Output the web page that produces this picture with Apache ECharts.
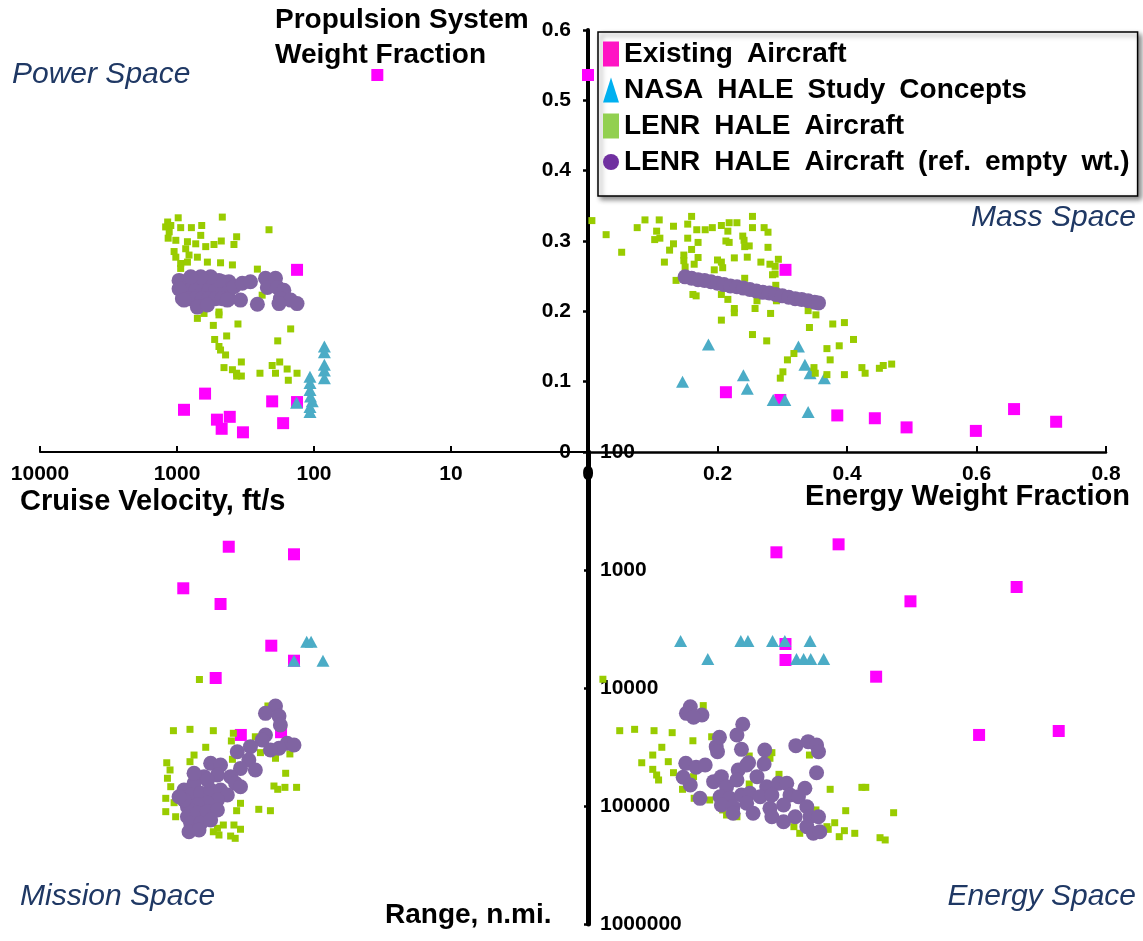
<!DOCTYPE html>
<html><head><meta charset="utf-8">
<script src="https://cdn.jsdelivr.net/npm/echarts@6/dist/echarts.min.js"></script>
<style>html,body{margin:0;padding:0;background:#fff}#c{width:1143px;height:941px}</style>
</head><body><div id="c"></div><script>
// ---------- data ----------
const seriesNames = ['Existing Aircraft','NASA HALE Study Concepts','LENR HALE Aircraft','LENR HALE Aircraft (ref. empty wt.)'];
const velocityTicks = [1,10,100,1000,10000];
const fractionTicks = [0,0.1,0.2,0.3,0.4,0.5,0.6];
const energyTicks = [0,0.2,0.4,0.6,0.8];
const rangeTicks = [100,1000,10000,100000,1000000];

// Power space: [cruise velocity ft/s, propulsion weight fraction]
const existingPower = [[34.5,0.536],[133,0.259],[624,0.083],[889,0.060],[202,0.072],[133,0.071],[511,0.046],[412,0.050],[472,0.033],[330,0.028],[168,0.041]];
const nasaPower = [[84,0.150],[84,0.142],[84,0.124],[84,0.116],[84,0.105],[107,0.107],[107,0.098],[107,0.088],[106,0.079],[103,0.072],[107,0.064],[107,0.057],[134,0.070]];
const lenrPower = [[980,0.333],[467,0.334],[213,0.316],[1170,0.327],[1210,0.320],[1110,0.322],[1140,0.313],[940,0.319],[785,0.319],[660,0.322],[671,0.308],[367,0.306],[1160,0.304],[1020,0.301],[839,0.299],[730,0.296],[617,0.292],[537,0.295],[475,0.300],[384,0.295],[1050,0.285],[1020,0.277],[864,0.289],[817,0.280],[710,0.277],[600,0.270],[481,0.269],[394,0.266],[940,0.268],[839,0.270],[940,0.261],[259,0.260],[239,0.223],[710,0.190],[635,0.197],[494,0.199],[494,0.195],[543,0.180],[359,0.182],[434,0.165],[531,0.160],[148,0.175],[184,0.158],[494,0.150],[481,0.145],[442,0.138],[454,0.120],[394,0.117],[367,0.112],[339,0.128],[367,0.108],[339,0.108],[248,0.112],[202,0.123],[178,0.128],[191,0.112],[157,0.118],[133,0.112],[154,0.102]];
const refPower = [[913,0.242],[817,0.242],[730,0.242],[653,0.242],[584,0.242],[522,0.242],[467,0.242],[418,0.242],
  [913,0.230],[817,0.230],[730,0.230],[653,0.230],[584,0.230],[522,0.230],[467,0.230],[418,0.230],
  [913,0.218],[817,0.218],[730,0.218],[653,0.218],[584,0.218],[522,0.218],[467,0.218],[418,0.218],
  [384,0.235],[334,0.240],[291,0.242],[226,0.247],[191,0.247],[219,0.234],[185,0.234],[166,0.230],[176,0.218],[148,0.216],[133,0.211],[180,0.211],[259,0.210],[344,0.216],[429,0.216],[966,0.244],[966,0.232],[889,0.216],[710,0.206],[600,0.209],[494,0.244],[568,0.249],[671,0.249],[794,0.249]];

// Mass space: [energy weight fraction, propulsion weight fraction]
const existingMass = [[0,0.536],[0.305,0.259],[0.213,0.085],[0.297,0.074],[0.385,0.052],[0.443,0.048],[0.492,0.035],[0.599,0.030],[0.658,0.061],[0.723,0.043]];
const nasaMass = [[0.186,0.153],[0.146,0.100],[0.240,0.109],[0.246,0.090],[0.286,0.074],[0.304,0.074],[0.325,0.150],[0.335,0.124],[0.343,0.112],[0.365,0.105],[0.340,0.057]];
const lenrMass = [[0.006,0.329],[0.028,0.309],[0.052,0.284],[0.076,0.319],[0.088,0.330],[0.110,0.330],[0.106,0.314],[0.132,0.321],[0.154,0.324],[0.160,0.335],[0.168,0.316],[0.181,0.316],[0.192,0.319],[0.206,0.322],[0.218,0.326],[0.230,0.326],[0.216,0.314],[0.254,0.335],[0.254,0.319],[0.272,0.319],[0.278,0.3125],[0.239,0.307],[0.241,0.301],[0.103,0.302],[0.111,0.304],[0.132,0.296],[0.126,0.287],[0.154,0.304],[0.170,0.298],[0.160,0.288],[0.213,0.300],[0.218,0.298],[0.242,0.292],[0.249,0.293],[0.278,0.291],[0.148,0.280],[0.148,0.272],[0.170,0.2765],[0.164,0.267],[0.150,0.263],[0.118,0.270],[0.200,0.273],[0.206,0.270],[0.208,0.262],[0.195,0.259],[0.226,0.276],[0.246,0.277],[0.267,0.270],[0.281,0.267],[0.294,0.274],[0.289,0.264],[0.285,0.252],[0.289,0.253],[0.136,0.244],[0.162,0.224],[0.167,0.222],[0.206,0.224],[0.216,0.217],[0.226,0.204],[0.226,0.198],[0.206,0.1875],[0.258,0.204],[0.261,0.215],[0.282,0.197],[0.290,0.237],[0.291,0.215],[0.242,0.247],[0.340,0.201],[0.352,0.195],[0.342,0.177],[0.378,0.182],[0.396,0.184],[0.254,0.167],[0.276,0.158],[0.410,0.160],[0.369,0.147],[0.388,0.151],[0.318,0.140],[0.308,0.131],[0.374,0.131],[0.301,0.114],[0.297,0.105],[0.349,0.120],[0.351,0.112],[0.369,0.110],[0.396,0.110],[0.423,0.120],[0.428,0.112],[0.450,0.119],[0.456,0.123],[0.469,0.125]];
const refMass = [[0.150,0.249],[0.160,0.247],[0.170,0.245],[0.180,0.244],[0.190,0.242],[0.200,0.240],[0.210,0.238],[0.220,0.236],[0.230,0.235],[0.240,0.233],[0.250,0.231],[0.260,0.229],[0.270,0.227],[0.280,0.226],[0.290,0.224],[0.300,0.222],[0.310,0.220],[0.320,0.218],[0.330,0.217],[0.340,0.215],[0.350,0.213],[0.356,0.212]];

// Energy space: [energy weight fraction, range n.mi.]
const existingEnergy = [[0.291,708],[0.387,606],[0.662,1393],[0.498,1842],[0.305,4240],[0.305,5790],[0.445,8020],[0.604,25000],[0.727,23130]];
const nasaEnergy = [[0.143,4000],[0.185,5680],[0.236,4000],[0.247,4000],[0.285,4000],[0.304,4000],[0.343,4000],[0.322,5680],[0.333,5680],[0.344,5680],[0.364,5680]];
const lenrEnergy = [[0.023,8430],[0.178,14100],[0.049,23000],[0.072,22400],[0.102,23000],[0.130,23900],[0.162,28000],[0.114,31800],[0.100,37000],[0.083,43000],[0.124,42100],[0.100,48900],[0.106,54600],[0.109,60200],[0.132,52200],[0.146,72200],[0.164,86000],[0.191,25900],[0.284,35300],[0.281,39400],[0.342,37000],[0.295,53900],[0.249,65100],[0.374,72200],[0.423,69500],[0.429,69500],[0.398,109600],[0.472,114000],[0.381,138600],[0.369,149700],[0.371,157700],[0.396,161900],[0.412,170400],[0.388,182000],[0.451,185600],[0.459,194000],[0.214,119200],[0.230,123300],[0.208,108000],[0.318,149700],[0.327,170400],[0.352,108000],[0.163,56400],[0.188,88900],[0.249,37700],[0.343,104700]];
const refEnergy = [[0.158,14400],[0.152,16400],[0.176,16950],[0.163,17700],[0.239,20300],[0.230,25000],[0.203,26200],[0.198,31400],[0.237,33100],[0.200,34700],[0.273,33500],[0.321,30800],[0.340,28500],[0.353,30400],[0.356,34700],[0.272,44100],[0.248,43000],[0.151,43500],[0.167,47000],[0.181,44900],[0.353,52200],[0.147,57100],[0.158,66400],[0.173,86100],[0.194,62200],[0.206,56400],[0.214,68600],[0.232,49500],[0.245,44900],[0.230,60200],[0.261,56400],[0.276,68600],[0.294,64300],[0.307,64300],[0.335,70800],[0.204,83400],[0.219,86100],[0.237,80700],[0.250,78000],[0.266,83400],[0.284,80700],[0.312,80700],[0.325,83400],[0.206,98200],[0.224,101400],[0.245,94900],[0.281,104700],[0.302,98200],[0.338,101400],[0.255,115300],[0.224,115300],[0.284,123300],[0.302,135800],[0.320,123300],[0.343,123300],[0.356,123300],[0.338,149700],[0.348,170400],[0.358,165300]];

// Mission space: [cruise velocity ft/s, range n.mi.]
const existingMission = [[419,635],[140,736],[900,1429],[481,1941],[205,4380],[140,5870],[522,8230],[342,25000],[174,23700]];
const nasaMission = [[113,4050],[105,4050],[140,5870],[86,5870]];
const lenrMission = [[686,8470],[1062,23000],[804,22400],[543,23000],[388,24200],[401,28100],[217,14200],[617,31800],[751,37000],[804,42100],[1188,43000],[1124,49500],[1174,58200],[1111,68600],[1208,86100],[1050,93700],[1208,111700],[1023,123300],[161,52800],[196,67700],[163,69500],[134,69500],[184,72200],[344,94900],[367,109600],[253,106700],[208,109600],[459,144900],[507,154500],[384,144900],[344,157400],[543,165300],[494,176200],[406,179700],[376,187900],[394,40200],[246,35300],[191,39400],[150,36200],[268,25900],[751,56400],[889,73100]];
const refMission = [[191,14200],[226,16400],[180,17300],[176,20600],[226,25000],[239,27600],[157,29400],[140,30400],[180,32400],[208,33500],[291,31400],[363,34700],[299,40700],[268,49500],[344,48000],[406,56400],[374,64300],[344,68600],[568,43500],[481,44900],[507,54600],[635,56400],[751,64300],[889,73100],[940,83400],[794,80700],[671,78000],[568,73100],[481,73100],[429,80700],[507,88900],[600,94900],[710,98200],[839,101400],[839,123300],[710,115300],[600,111700],[507,108000],[794,140300],[671,140300],[568,131500],[817,165300],[691,159700],[889,88900],[966,83400],[600,60200],[751,52800]];

// ---------- styles ----------
const FONT = '"Liberation Sans", Arial, sans-serif';
const colors = ['#FF00FF','#4BACC6','#99CC00','#8064A2'];
const legendColors = ['#FF14C4','#00B0F0','#92D050','#7030A0'];
const symbols = ['rect','triangle','rect','circle'];
const sizes = [12,[13,12],7,15];

const chart = echarts.init(document.getElementById('c'), null, {renderer:'canvas'});

function mk(k, data, xi, yi){
  return {type:'scatter', name:seriesNames[k], data:data, xAxisIndex:xi, yAxisIndex:yi,
    symbol:symbols[k], symbolSize:sizes[k], itemStyle:{color:colors[k], opacity:1},
    z:2+k, silent:true, clip:false};
}
const fmtInt = v => String(Math.round(v));
const tickLab = {fontSize:21, fontWeight:'bold', color:'#000', fontFamily:FONT};

const option = {
  animation:false,
  backgroundColor:'#fff',
  grid:[
    {left:40, top:30, width:548, height:422},
    {left:588, top:30, width:518, height:422},
    {left:588, top:452, width:518, height:472},
    {left:40, top:452, width:548, height:472}
  ],
  xAxis:[
    {gridIndex:0, type:'log', logBase:10, min:velocityTicks[0], max:velocityTicks[velocityTicks.length-1], inverse:true, position:'bottom',
     axisLine:{lineStyle:{color:'#000', width:2}}, axisTick:{inside:true, length:6, lineStyle:{color:'#000', width:2}},
     axisLabel:Object.assign({margin:12, formatter:v => Math.round(v)===1 ? '' : fmtInt(v)}, tickLab), splitLine:{show:false}, minorTick:{show:false}},
    {gridIndex:1, type:'value', min:energyTicks[0], max:energyTicks[energyTicks.length-1], interval:0.2, position:'bottom',
     axisLine:{onZero:false, lineStyle:{color:'#000', width:2.5}}, axisTick:{inside:true, length:6, lineStyle:{color:'#000', width:2}},
     axisLabel:Object.assign({margin:12, formatter:v => v===0 ? '0' : v.toFixed(1)}, tickLab), splitLine:{show:false}},
    {gridIndex:2, type:'value', min:0, max:0.8, show:false},
    {gridIndex:3, type:'log', logBase:10, min:1, max:10000, inverse:true, show:false}
  ],
  yAxis:[
    {gridIndex:0, type:'value', min:0, max:0.6, show:false},
    {gridIndex:1, type:'value', min:fractionTicks[0], max:fractionTicks[fractionTicks.length-1], interval:0.1, position:'left',
     axisLine:{onZero:false, lineStyle:{color:'#000', width:4}}, axisTick:{inside:false, length:5, lineStyle:{color:'#000', width:2.5}},
     axisLabel:Object.assign({margin:17, formatter:v => v===0 ? '0' : v.toFixed(1)}, tickLab), splitLine:{show:false}},
    {gridIndex:2, type:'log', logBase:10, min:rangeTicks[0], max:rangeTicks[rangeTicks.length-1], inverse:true, position:'left',
     axisLine:{onZero:false, lineStyle:{color:'#000', width:5}}, axisTick:{inside:false, length:4, lineStyle:{color:'#000', width:2.5}},
     axisLabel:Object.assign({inside:true, margin:12, formatter:fmtInt}, tickLab), splitLine:{show:false}, minorTick:{show:false}},
    {gridIndex:3, type:'log', logBase:10, min:100, max:1000000, inverse:true, show:false}
  ],
  legend:{
    left:598, top:32, orient:'vertical', selectedMode:false,
    itemWidth:16, itemHeight:25, itemGap:8,
    padding:[8,8,20,5],
    backgroundColor:'#fff', borderColor:'#000', borderWidth:1.5,
    shadowBlur:5, shadowColor:'rgba(0,0,0,0.45)', shadowOffsetX:3, shadowOffsetY:3,
    textStyle:{fontSize:28, fontWeight:'bold', color:'#000', fontFamily:FONT},
    formatter: n => n.replace(/ /g, '\u2002'),
    data:seriesNames.map((n,i)=>({name:n, icon:symbols[i], itemStyle:{color:legendColors[i]}}))
  },
  graphic:[
    {type:'text', left:275, top:3, style:{text:'Propulsion System\nWeight Fraction', fontSize:28, fontWeight:'bold', fontFamily:FONT, fill:'#000', lineHeight:35}},
    {type:'text', left:12, top:60, style:{text:'Power Space', fontSize:30, fontStyle:'italic', fontFamily:FONT, fill:'#1F3864'}},
    {type:'text', right:7, top:203, style:{text:'Mass Space', fontSize:30, fontStyle:'italic', fontFamily:FONT, fill:'#1F3864'}},
    {type:'text', left:20, top:882, style:{text:'Mission Space', fontSize:30, fontStyle:'italic', fontFamily:FONT, fill:'#1F3864'}},
    {type:'text', right:7, top:882, style:{text:'Energy Space', fontSize:30, fontStyle:'italic', fontFamily:FONT, fill:'#1F3864'}},
    {type:'text', left:20, top:487, style:{text:'Cruise Velocity, ft/s', fontSize:29, fontWeight:'bold', fontFamily:FONT, fill:'#000'}},
    {type:'text', right:13, top:482, style:{text:'Energy Weight Fraction', fontSize:29, fontWeight:'bold', fontFamily:FONT, fill:'#000'}},
    {type:'text', left:385, top:901, style:{text:'Range, n.mi.', fontSize:28, fontWeight:'bold', fontFamily:FONT, fill:'#000'}}
  ],
  series:[
    mk(0, existingPower, 0, 0), mk(1, nasaPower, 0, 0), mk(2, lenrPower, 0, 0), mk(3, refPower, 0, 0),
    mk(0, existingMass, 1, 1), mk(1, nasaMass, 1, 1), mk(2, lenrMass, 1, 1), mk(3, refMass, 1, 1),
    mk(0, existingEnergy, 2, 2), mk(1, nasaEnergy, 2, 2), mk(2, lenrEnergy, 2, 2), mk(3, refEnergy, 2, 2),
    mk(0, existingMission, 3, 3), mk(1, nasaMission, 3, 3), mk(2, lenrMission, 3, 3), mk(3, refMission, 3, 3)
  ]
};
chart.setOption(option);
</script></body></html>
